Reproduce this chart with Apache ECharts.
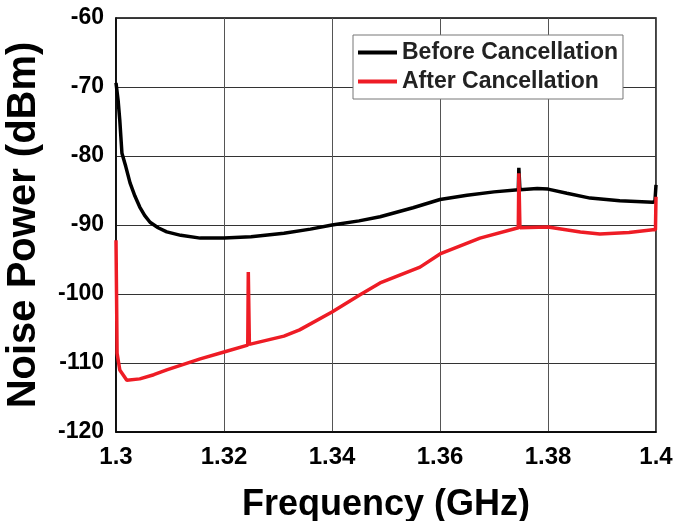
<!DOCTYPE html>
<html>
<head>
<meta charset="utf-8">
<script src="https://cdn.jsdelivr.net/npm/echarts@6/dist/echarts.min.js"></script>
<style>
html, body { margin: 0; padding: 0; background: #fff; }
#chart { width: 674px; height: 521px; }
</style>
</head>
<body>
<div id="chart"></div>
<script>
// frequency (GHz) / noise power (dBm)
var beforeFreq = [1.3000, 1.3004, 1.3007, 1.3011, 1.3018, 1.3026, 1.3035, 1.3044, 1.3053, 1.3063,
    1.3078, 1.3094, 1.3120, 1.3156, 1.3200, 1.3250, 1.3311, 1.3360, 1.3400, 1.3450,
    1.3489, 1.3550, 1.3600, 1.3650, 1.3700, 1.3745, 1.3746, 1.3748, 1.3780, 1.3800,
    1.3835, 1.3878, 1.3933, 1.3994, 1.3998, 1.4000];
var beforePower = [-69.4, -72.0, -74.8, -79.6, -81.5, -83.9, -85.8, -87.4, -88.6, -89.6,
    -90.4, -91.0, -91.5, -91.9, -91.9, -91.7, -91.2, -90.6, -90.0, -89.4,
    -88.8, -87.5, -86.3, -85.7, -85.2, -84.9, -81.7, -84.9, -84.7, -84.8,
    -85.4, -86.1, -86.5, -86.7, -86.6, -84.2];

var afterFreq = [1.3000, 1.3001, 1.3002, 1.3007, 1.3020, 1.3044, 1.3070, 1.3094, 1.3156, 1.3200,
    1.3244, 1.3245, 1.3247, 1.3311, 1.3340, 1.3400, 1.3452, 1.3489, 1.3563, 1.3600,
    1.3674, 1.3745, 1.3746, 1.3748, 1.3800, 1.3860, 1.3896, 1.3950, 1.3994, 1.3999, 1.4000];
var afterPower = [-92.2, -100.0, -108.6, -111.0, -112.5, -112.3, -111.7, -111.0, -109.4, -108.4,
    -107.4, -96.8, -107.3, -106.1, -105.2, -102.6, -100.1, -98.4, -96.1, -94.2,
    -91.9, -90.4, -82.5, -90.4, -90.3, -91.0, -91.3, -91.1, -90.7, -90.7, -85.9];

var xTicks = { min: 1.3, max: 1.4, step: 0.02 };
var yTicks = { min: -120, max: -60, step: 10 };

function pairs(xs, ys) {
    return xs.map(function (x, i) { return [x, ys[i]]; });
}

var myChart = echarts.init(document.getElementById('chart'));
myChart.setOption({
    animation: false,
    backgroundColor: '#fff',
    textStyle: { fontFamily: 'Liberation Sans, Arial, sans-serif' },
    grid: {
        left: 116, right: 18, top: 18, bottom: 89,
        outerBoundsMode: 'none',
        containLabel: false,
        show: true, borderColor: '#000', borderWidth: 1.5
    },
    legend: {
        orient: 'vertical',
        left: 353, top: 35,
        padding: [6, 5, 6, 5],
        itemGap: 6,
        itemWidth: 39, itemHeight: 4,
        backgroundColor: '#fff',
        borderColor: '#777', borderWidth: 1, borderRadius: 0,
        textStyle: { fontSize: 23, fontWeight: 'bold', color: '#222', padding: [0, 0, 0, 0] },
        data: [
            { name: 'Before Cancellation', icon: 'rect' },
            { name: 'After Cancellation', icon: 'rect' }
        ]
    },
    xAxis: {
        type: 'value',
        min: xTicks.min, max: xTicks.max, interval: xTicks.step,
        name: 'Frequency (GHz)',
        nameLocation: 'middle', nameGap: 55,
        nameTextStyle: { fontSize: 36, fontWeight: 'bold', color: '#000' },
        axisLine: { lineStyle: { color: '#000', width: 1.5 } },
        axisTick: { show: false },
        axisLabel: {
            fontSize: 24, fontWeight: 'bold', color: '#000', margin: 13,
            formatter: function (v) { return String(parseFloat(v.toFixed(2))); }
        },
        splitLine: { show: true, lineStyle: { color: '#555', width: 1 } }
    },
    yAxis: {
        type: 'value',
        min: yTicks.min, max: yTicks.max, interval: yTicks.step,
        name: 'Noise Power (dBm)',
        nameLocation: 'middle', nameGap: 72,
        nameTextStyle: { fontSize: 40, fontWeight: 'bold', color: '#000' },
        axisLine: { lineStyle: { color: '#000', width: 1.5 } },
        axisTick: { show: false },
        axisLabel: { fontSize: 23, fontWeight: 'bold', color: '#000', margin: 12 },
        splitLine: { show: true, lineStyle: { color: '#333', width: 1 } }
    },
    series: [
        {
            name: 'Before Cancellation',
            type: 'line',
            symbol: 'none',
            color: '#000',
            lineStyle: { width: 3.5, color: '#000' },
            data: pairs(beforeFreq, beforePower)
        },
        {
            name: 'After Cancellation',
            type: 'line',
            symbol: 'none',
            color: '#ee1c25',
            lineStyle: { width: 3.5, color: '#ee1c25' },
            data: pairs(afterFreq, afterPower)
        }
    ]
});
</script>
</body>
</html>
